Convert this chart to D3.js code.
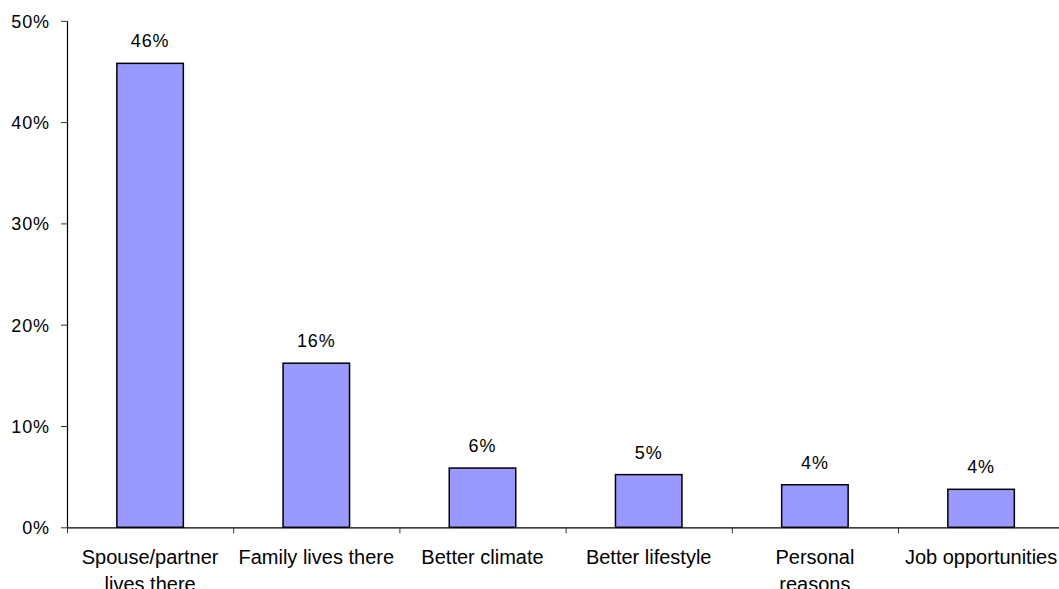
<!DOCTYPE html>
<html>
<head>
<meta charset="utf-8">
<script src="https://cdn.jsdelivr.net/npm/d3@7"></script>
<style>
  html, body { margin: 0; padding: 0; background: #fff; }
  svg { display: block; }
  text { font-family: "Liberation Sans", Arial, sans-serif; fill: #000; }
  .num { font-size: 18px; letter-spacing: 0.9px; }
  .cat { font-size: 20px; }
</style>
</head>
<body>
<svg id="chart" width="1059" height="589"></svg>
<script>
// Reasons for moving, share of respondents
const categories = [
  "Spouse/partner\nlives there",
  "Family lives there",
  "Better climate",
  "Better lifestyle",
  "Personal\nreasons",
  "Job opportunities"
];
const shares = [0.458, 0.162, 0.0585, 0.052, 0.042, 0.0375];
const yTicks = [0, 0.1, 0.2, 0.3, 0.4, 0.5];

const svg = d3.select("#chart");
const plotLeft = 67, plotTop = 20.8, plotBottom = 527.3, step = 166.2;
const plotRight = plotLeft + step * categories.length;

const x = d3.scaleBand()
  .domain(categories)
  .range([plotLeft, plotRight])
  .paddingInner(0.6)
  .paddingOuter(0.3);

const y = d3.scaleLinear().domain([0, 0.5]).range([plotBottom, plotTop]);
const pct = d3.format(".0%");

// Bars
svg.append("g").selectAll("rect")
  .data(categories)
  .join("rect")
  .attr("x", d => x(d))
  .attr("width", x.bandwidth())
  .attr("y", (d, i) => y(shares[i]))
  .attr("height", (d, i) => plotBottom - y(shares[i]))
  .attr("fill", "#9999ff")
  .attr("stroke", "#000")
  .attr("stroke-width", 1.5);

// Value labels
svg.append("g").selectAll("text")
  .data(categories)
  .join("text")
  .attr("class", "num")
  .attr("x", d => x(d) + x.bandwidth() / 2)
  .attr("y", (d, i) => y(shares[i]) - 16)
  .attr("text-anchor", "middle")
  .text((d, i) => pct(shares[i]));

// Y axis
const yAxis = svg.append("g")
  .attr("transform", `translate(${plotLeft},0)`)
  .call(d3.axisLeft(y).tickValues(yTicks).tickFormat(pct).tickSize(6).tickSizeOuter(0));
yAxis.attr("font-size", null).attr("font-family", null);
yAxis.select(".domain").attr("stroke", "#000").attr("stroke-width", 1.2);
yAxis.selectAll(".tick line").attr("stroke", "#333");
yAxis.selectAll(".tick text")
  .attr("class", "num")
  .attr("x", -17)
  .attr("dy", "0.35em");

// X axis: boundary ticks between categories
const edge = d3.scaleLinear().domain([0, categories.length]).range([plotLeft, plotRight]);
const xAxis = svg.append("g")
  .attr("transform", `translate(0,${plotBottom})`)
  .call(d3.axisBottom(edge).tickValues(d3.range(0, categories.length + 1)).tickFormat("").tickSize(6).tickSizeOuter(0));
xAxis.select(".domain").attr("stroke", "#000").attr("stroke-width", 1.2);
xAxis.selectAll(".tick line").attr("stroke", "#333");

// Category labels
const catG = svg.append("g");
categories.forEach(c => {
  const cx = x(c) + x.bandwidth() / 2;
  const t = catG.append("text")
    .attr("class", "cat")
    .attr("text-anchor", "middle")
    .attr("x", cx)
    .attr("y", plotBottom + 37);
  c.split("\n").forEach((line, j) => {
    t.append("tspan")
      .attr("x", cx)
      .attr("dy", j === 0 ? 0 : 26.5)
      .text(line);
  });
});
</script>
</body>
</html>
